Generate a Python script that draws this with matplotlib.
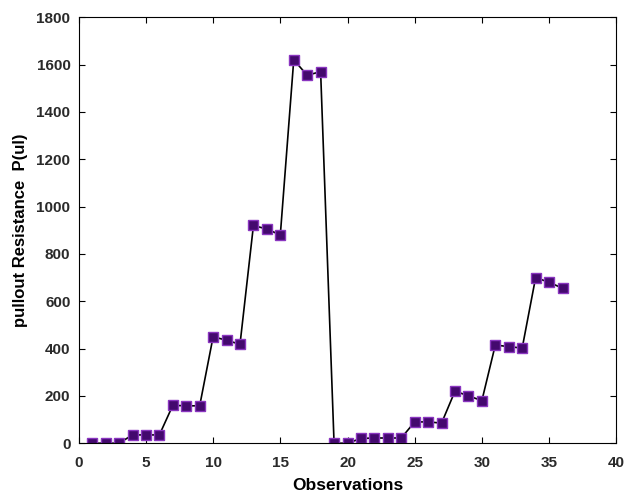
import matplotlib.pyplot as plt

plt.rcParams['font.family'] = ['Liberation Sans', 'DejaVu Sans']

observations = list(range(1, 37))
pullout = [0, 0, 0, 35, 35, 35, 160, 158, 158, 450, 435, 418,
           920, 905, 880, 1620, 1555, 1570, 0, 0, 20, 22, 22, 22,
           90, 90, 85, 220, 200, 180, 415, 408, 402, 700, 680, 655]

fig = plt.figure(figsize=(6.25, 4.93), dpi=100)
ax = fig.add_axes([0.126, 0.101, 0.86, 0.864])

ax.plot(observations, pullout, color='black', linewidth=1.2,
        marker='s', markersize=6.5, markerfacecolor='#44096e',
        markeredgecolor='#8a35c0', markeredgewidth=1)

ax.set_xlim(0, 40)
ax.set_ylim(0, 1800)
ax.set_xticks(range(0, 41, 5))
ax.set_yticks(range(0, 1801, 200))
ax.tick_params(direction='in', top=True, right=True, labelsize=11, length=4, pad=6)
ax.tick_params(axis='x', pad=9)
for lbl in ax.get_xticklabels() + ax.get_yticklabels():
    lbl.set_fontweight('bold')
    lbl.set_color('#2a2a2a')

ax.set_xlabel('Observations', fontsize=12.5, fontweight='bold', labelpad=6)
ax.set_ylabel('pullout Resistance  P(ul)', fontsize=12, fontweight='bold', labelpad=6)

fig.savefig('out.png', dpi=100)
